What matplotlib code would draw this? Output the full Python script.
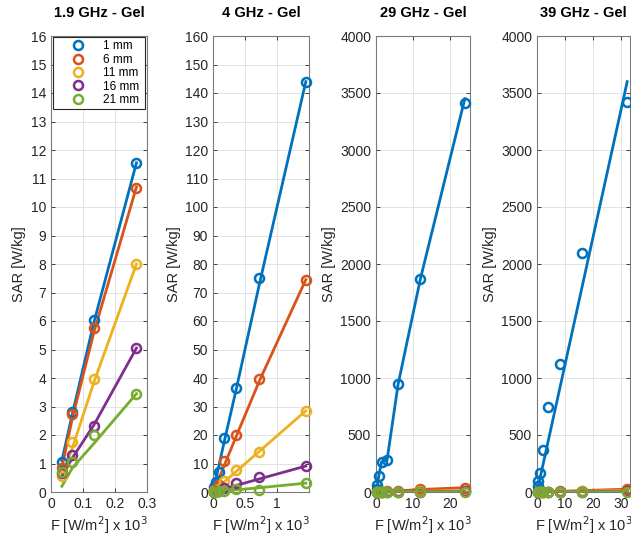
import numpy as np
import matplotlib.pyplot as plt
from matplotlib.ticker import FormatStrFormatter, MultipleLocator

plt.rcParams["font.family"] = ["Liberation Sans", "DejaVu Sans"]

# MATLAB default colour order
colors = ["#0072BD", "#D95319", "#EDB120", "#7E2F8E", "#77AC30"]
labels = ["1 mm", "6 mm", "11 mm", "16 mm", "21 mm"]

# ---- 1.9 GHz ----
x_19 = [0.034, 0.067, 0.134, 0.267]
meas_19 = [
    [1.05, 2.8, 6.05, 11.55],
    [0.85, 2.75, 5.75, 10.65],
    [0.55, 1.75, 3.95, 8.0],
    [0.65, 1.3, 2.3, 5.05],
    [0.7, 1.05, 2.0, 3.45],
]
fit_19 = [
    [1.1, 2.75, 5.95, 11.55],
    [0.85, 2.6, 5.6, 10.7],
    [0.55, 1.55, 3.85, 8.0],
    [0.55, 1.2, 2.35, 5.05],
    [0.2, 0.85, 1.7, 3.45],
]

# ---- 4 GHz ----
x_4 = [0.0114, 0.0228, 0.0456, 0.091, 0.18, 0.365, 0.73, 1.46]
meas_4 = [
    [0.8, 1.8, 3.6, 7.0, 19.0, 36.5, 75.0, 144.0],
    [0.3, 0.6, 1.2, 2.5, 11.0, 20.0, 39.5, 74.5],
    [0.1, 0.25, 0.5, 1.0, 3.8, 7.8, 14.2, 28.5],
    [0.05, 0.1, 0.2, 0.5, 1.5, 3.2, 5.2, 9.1],
    [0.02, 0.05, 0.1, 0.2, 0.4, 1.2, 0.7, 3.1],
]
fit_4 = [
    [1.1, 2.2, 4.5, 9.0, 18.0, 36.0, 73.0, 144.0],
    [0.6, 1.2, 2.3, 4.6, 9.5, 19.5, 39.0, 74.5],
    [0.2, 0.4, 0.9, 1.8, 3.6, 7.2, 14.3, 28.5],
    [0.1, 0.2, 0.3, 0.6, 1.2, 2.3, 4.6, 9.1],
    [0.02, 0.05, 0.1, 0.2, 0.4, 0.75, 1.5, 3.1],
]

# ---- 29 GHz ----
x_29 = [0.19, 0.38, 0.75, 1.5, 3.0, 6.0, 12.05, 24.1]
meas_29 = [
    [30, 65, 140, 265, 280, 945, 1870, 3410],
    [0.3, 0.6, 1.2, 2.5, 5, 10, 22, 38],
    [0.1, 0.2, 0.4, 0.8, 1.5, 3, 6, 12],
    [0.05, 0.1, 0.2, 0.4, 0.8, 1.5, 3, 6],
    [0.02, 0.05, 0.1, 0.2, 0.4, 0.8, 1.5, 3],
]
fit_29 = [
    [30, 65, 140, 265, 280, 945, 1870, 3450],
    [0.3, 0.6, 1.2, 2.5, 5, 10, 22, 38],
    [0.1, 0.2, 0.4, 0.8, 1.5, 3, 6, 12],
    [0.05, 0.1, 0.2, 0.4, 0.8, 1.5, 3, 6],
    [0.02, 0.05, 0.1, 0.2, 0.4, 0.8, 1.5, 3],
]

# ---- 39 GHz ----
x_39 = [0.25, 0.5, 1.01, 2.02, 4.04, 8.08, 16.15, 32.3]
meas_39 = [
    [55, 95, 165, 365, 745, 1120, 2100, 3420],
    [0.2, 0.4, 0.8, 1.5, 3, 6, 12, 25],
    [0.1, 0.2, 0.4, 0.8, 1.5, 3, 6, 12],
    [0.05, 0.1, 0.2, 0.4, 0.8, 1.5, 3, 6],
    [0.02, 0.05, 0.1, 0.2, 0.4, 0.8, 1.5, 3],
]
fit_39 = [
    [28, 56, 113, 225, 450, 900, 1800, 3600],
    [0.2, 0.4, 0.8, 1.5, 3, 6, 12, 25],
    [0.1, 0.2, 0.4, 0.8, 1.5, 3, 6, 12],
    [0.05, 0.1, 0.2, 0.4, 0.8, 1.5, 3, 6],
    [0.02, 0.05, 0.1, 0.2, 0.4, 0.8, 1.5, 3],
]

titles = ["1.9 GHz - Gel", "4 GHz - Gel", "29 GHz - Gel", "39 GHz - Gel"]
xs = [x_19, x_4, x_29, x_39]
meas = [meas_19, meas_4, meas_29, meas_39]
fits = [fit_19, fit_4, fit_29, fit_39]
xlims = [0.3, 1.51, 25.5, 33.3]
xticks = [[0, 0.1, 0.2, 0.3], [0, 0.5, 1], [0, 10, 20], [0, 10, 20, 30]]
ylims = [16, 160, 4000, 4000]
ysteps = [1, 10, 500, 500]

W, H = 631, 536
fig = plt.figure(figsize=(W / 100, H / 100), dpi=100)

lefts = [51, 213, 376, 537]
widths = [96, 96, 94, 93]
top, bottom = 36, 492

for i in range(4):
    ax = fig.add_axes([lefts[i] / W, 1 - bottom / H, widths[i] / W, (bottom - top) / H])
    handles = []
    for k in range(5):
        ax.plot(xs[i], fits[i][k], color=colors[k], lw=2.0, zorder=2)
        (h,) = ax.plot(xs[i], meas[i][k], "o", mfc="none", mec=colors[k],
                       ms=6.5, mew=1.8, clip_on=False, zorder=3)
        handles.append(h)

    ax.set_xlim(0, xlims[i])
    ax.set_ylim(0, ylims[i])
    ax.set_xticks(xticks[i])
    ax.yaxis.set_major_locator(MultipleLocator(ysteps[i]))
    ax.xaxis.set_major_formatter(FormatStrFormatter("%g"))
    ax.yaxis.set_major_formatter(FormatStrFormatter("%g"))
    ax.grid(True, color="#e3e3e3", lw=0.7)
    ax.set_axisbelow(True)
    ax.tick_params(direction="in", top=True, right=True, length=3,
                   labelsize=10, colors="#262626", width=0.6)
    for s in ax.spines.values():
        s.set_color("#7a7a7a")
        s.set_linewidth(0.8)

    ax.set_title(titles[i], fontsize=10.5, fontweight="bold", pad=14)
    ax.set_ylabel("SAR [W/kg]", fontsize=10.5, color="#262626", labelpad=3)
    ax.set_xlabel("F [W/m$^2$] x 10$^3$", fontsize=10.5, color="#262626", labelpad=2.5)

    if i == 0:
        leg = ax.legend(handles, labels, loc="upper left",
                        bbox_to_anchor=(0.016, 0.997, 0.96, 0.0), mode="expand",
                        fontsize=8.5, handlelength=3.8, handletextpad=0.2,
                        labelspacing=0.12, borderpad=0.25, borderaxespad=0.0,
                        fancybox=False, framealpha=1.0, edgecolor="#262626")
        leg.get_frame().set_linewidth(0.8)

fig.savefig("out.png", dpi=100)
